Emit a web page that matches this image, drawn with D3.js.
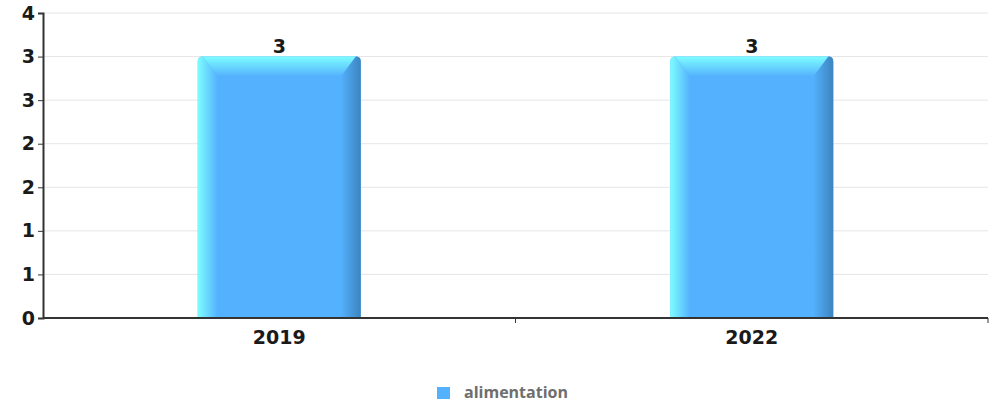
<!DOCTYPE html>
<html>
<head>
<meta charset="utf-8">
<script src="https://cdn.jsdelivr.net/npm/d3@7"></script>
<style>
  body { margin: 0; background: #fff; }
  svg { display: block; }
</style>
</head>
<body>
<svg id="chart" width="998" height="406"></svg>
<script>
// data
const years = ["2019", "2022"];
const alimentation = [3, 3];
const seriesName = "alimentation";
const yTicks = [0, 0.5, 1, 1.5, 2, 2.5, 3, 3.5];

const width = 998, height = 406;
const margin = {top: 13, right: 10, bottom: 88, left: 43};
const labelFont = "19px";

const svg = d3.select("#chart");
const defs = svg.append("defs");

// gradients for the bevelled bars
function linGrad(id, x2, y2, stops) {
    let g = defs.append("linearGradient").attr("id", id)
        .attr("x1", 0).attr("y1", 0).attr("x2", x2).attr("y2", y2);
    stops.forEach(s => g.append("stop").attr("offset", s[0]).attr("stop-color", s[1]));
}
linGrad("gLeft", 1, 0, [[0, "#7dfdff"], [1, "#54b1fd"]]);
linGrad("gTop", 0, 1, [[0, "#7dfdff"], [1, "#54b1fd"]]);
linGrad("gRight", 1, 0, [[0, "#54b1fd"], [1, "#3c84bf"]]);

const x = d3.scaleBand()
    .domain(years)
    .range([margin.left, width - margin.right])
    .paddingInner(0).paddingOuter(0);

const y = d3.scaleLinear()
    .domain([0, 3.5])
    .range([height - margin.bottom, margin.top]);

// grid lines
svg.append("g")
    .selectAll("line")
    .data(yTicks)
    .enter().append("line")
    .attr("x1", margin.left)
    .attr("x2", width - margin.right)
    .attr("y1", d => y(d))
    .attr("y2", d => y(d))
    .style("stroke", "#e6e6e6")
    .style("stroke-width", "1px");

// bars
const barW = x.bandwidth() * 0.345;
const bev = 20;
const bars = svg.append("g")
    .selectAll("g")
    .data(years.map((k, i) => ({year: k, v: alimentation[i]})))
    .enter().append("g");

bars.each(function (d) {
    let g = d3.select(this);
    let cx = x(d.year) + x.bandwidth() / 2;
    let x0 = cx - barW / 2, x1 = cx + barW / 2;
    let t = y(d.v), b = y(0);
    let r = 5;
    g.append("path")
        .attr("d", `M${x0},${b} L${x0},${t + r} Q${x0},${t} ${x0 + r},${t} L${x1 - r},${t} Q${x1},${t} ${x1},${t + r} L${x1},${b} Z`)
        .style("fill", "#54b1fd");
    g.append("path")
        .attr("d", `M${x0},${t + r} Q${x0},${t} ${x0 + r},${t} L${x0 + bev},${t + bev} L${x0 + bev},${b} L${x0},${b} Z`)
        .style("fill", "url(#gLeft)");
    g.append("path")
        .attr("d", `M${x1},${t + r} Q${x1},${t} ${x1 - r},${t} L${x1 - bev},${t + bev} L${x1 - bev},${b} L${x1},${b} Z`)
        .style("fill", "url(#gRight)");
    g.append("path")
        .attr("d", `M${x0 + r},${t} L${x1 - r},${t} L${x1 - bev},${t + bev} L${x0 + bev},${t + bev} Z`)
        .style("fill", "url(#gTop)");
    // value label
    g.append("text")
        .attr("x", cx)
        .attr("y", t - 4)
        .text(d.v)
        .style("text-anchor", "middle")
        .style("font-family", "DejaVu Sans")
        .style("font-weight", "bold")
        .style("font-size", labelFont)
        .style("fill", "#1a1a1a");
});

// y axis
const yAxis = svg.append("g")
    .attr("transform", "translate(" + margin.left + ",0)")
    .call(d3.axisLeft(y).tickValues(yTicks).tickSize(5).tickPadding(3)
        .tickFormat(d => Math.round(d)));
yAxis.select(".domain").style("stroke", "#333").style("stroke-width", "2px");
yAxis.selectAll("line").style("stroke", "#333");
yAxis.selectAll("text")
    .style("font-family", "DejaVu Sans")
    .style("font-weight", "bold")
    .style("font-size", labelFont)
    .style("fill", "#1a1a1a");

// x axis: ticks sit on band edges
const xAxisG = svg.append("g")
    .attr("transform", "translate(0," + y(0) + ")");
xAxisG.append("line")
    .attr("x1", margin.left).attr("x2", width - margin.right)
    .style("stroke", "#333").style("stroke-width", "2px");
xAxisG.selectAll(".tk")
    .data(years.slice(1).map(k => x(k)).concat([width - margin.right]))
    .enter().append("line")
    .attr("x1", d => d).attr("x2", d => d)
    .attr("y1", 0).attr("y2", 5)
    .style("stroke", "#333");
xAxisG.selectAll("text")
    .data(years)
    .enter().append("text")
    .attr("x", d => x(d) + x.bandwidth() / 2)
    .attr("y", 26)
    .text(d => d)
    .style("text-anchor", "middle")
    .style("font-family", "DejaVu Sans")
    .style("font-weight", "bold")
    .style("font-size", labelFont)
    .style("fill", "#1a1a1a");

// legend
const legend = svg.append("g").attr("transform", "translate(437,387)");
legend.append("rect")
    .attr("width", 13).attr("height", 12)
    .style("fill", "#54b1fd");
legend.append("text")
    .attr("x", 27).attr("y", 11)
    .text(seriesName)
    .style("font-family", "Open Sans")
    .style("font-weight", "bold")
    .style("font-size", "16px")
    .style("fill", "#6e6e6e");
</script>
</body>
</html>
